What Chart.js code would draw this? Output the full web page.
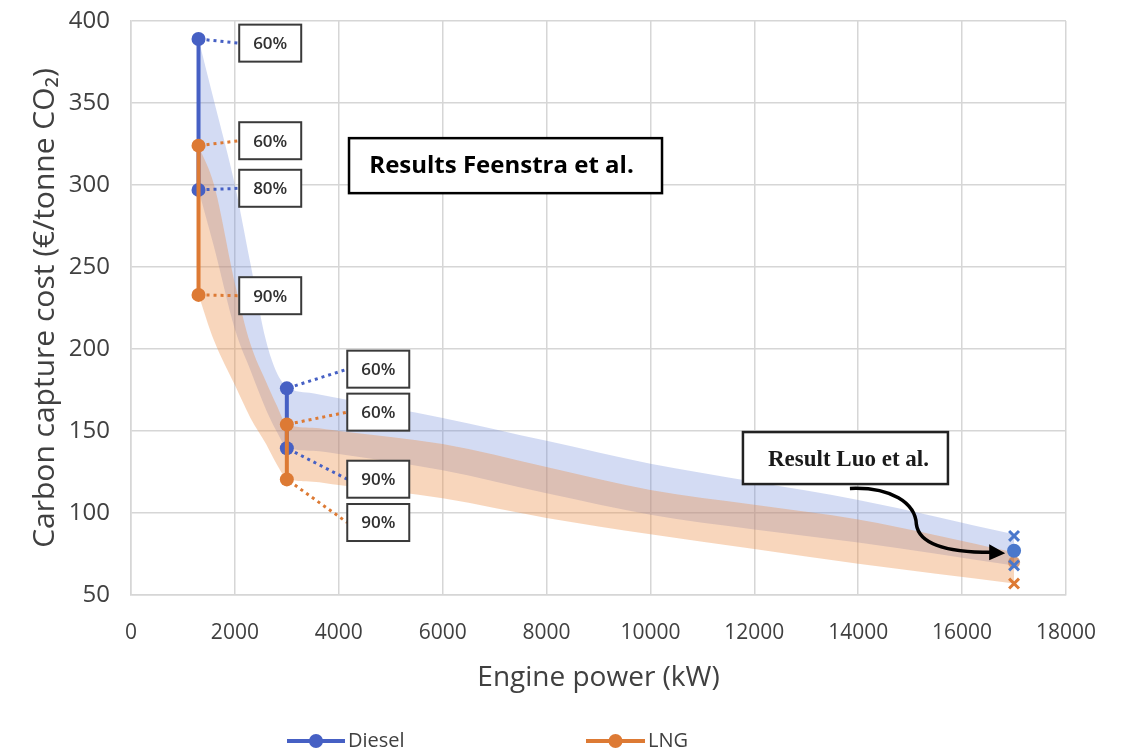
<!DOCTYPE html>
<html>
<head>
<meta charset="utf-8">
<script src="https://cdn.jsdelivr.net/npm/chart.js@4.4.1/dist/chart.umd.min.js"></script>
<style>
  html, body { margin: 0; padding: 0; background: #ffffff; }
  #wrap { width: 1123px; height: 756px; }
</style>
</head>
<body>
<div id="wrap"><canvas id="c" width="1123" height="756"></canvas></div>
<script>
// ---------------- DATA ----------------
const seriesNames = ['Diesel', 'LNG'];
const powerKW = [1300, 3000];              // engine power of Feenstra cases
const dieselHigh = [389, 176];             // 60 % capture
const dieselLow = [297, 139.5];            // 80 % / 90 % capture
const lngHigh = [324, 154];                // 60 % capture
const lngLow = [233, 120.5];               // 90 % capture
const dieselHighLabels = ['60%', '60%'];
const dieselLowLabels = ['80%', '90%'];
const lngHighLabels = ['60%', '60%'];
const lngLowLabels = ['90%', '90%'];

const luoPower = [17000];
const luoDieselMid = [77];
const luoDieselRange = [86, 68];
const luoLngMid = [70];
const luoLngRange = [57];

// uncertainty bands (read along band edges)
const bandPower = [1300, 1600, 2000, 2300, 2600, 2800, 3000, 3500, 4000, 6000, 8000, 10000, 12000, 14000, 17000];
const dieselBandTop = [389, 351, 300, 252, 205, 186, 177, 173, 170, 158, 144, 130, 119, 108, 87];
const dieselBandBottom = [297, 262, 212, 187, 163, 150, 140, 138, 136, 126, 112, 99, 90, 82, 68];
const lngBandTop = [324, 300, 240, 203, 180, 166, 154, 152, 150, 142, 128, 114, 105, 96, 76];
const lngBandBottom = [233, 205, 178, 158, 142, 130, 121, 119, 117, 109, 97, 87, 78, 69, 57];

const xTickMin = 0, xTickMax = 18000, xTickStep = 2000;
const yTickMin = 50, yTickMax = 400, yTickStep = 50;

const feenstraText = 'Results Feenstra et al.';
const luoText = 'Result Luo et al.';

// ---------------- STYLE ----------------
const BLUE = '#4660c4';
const ORANGE = '#dd7a34';
const BLUE_BAND = 'rgba(110,135,215,0.30)';
const ORANGE_BAND = 'rgba(235,140,70,0.36)';
const TEXT = '#404040';
const GRID = '#d6d6d6';

// annotation anchors (data units)
const leftBoxX = 2680, rightBoxX = 4760;
const boxW = 62, boxH = 37;
const leaderBoxes = [
  { text: dieselHighLabels[0], bx: leftBoxX, by: 386.5, px: powerKW[0], py: dieselHigh[0], color: BLUE },
  { text: lngHighLabels[0],    bx: leftBoxX, by: 327,   px: powerKW[0], py: lngHigh[0],    color: ORANGE },
  { text: dieselLowLabels[0],  bx: leftBoxX, by: 298,   px: powerKW[0], py: dieselLow[0],  color: BLUE },
  { text: lngLowLabels[0],     bx: leftBoxX, by: 232.5, px: powerKW[0], py: lngLow[0],     color: ORANGE },
  { text: dieselHighLabels[1], bx: rightBoxX, by: 187.7, px: powerKW[1], py: dieselHigh[1], color: BLUE },
  { text: lngHighLabels[1],    bx: rightBoxX, by: 161.5, px: powerKW[1], py: lngHigh[1],    color: ORANGE },
  { text: dieselLowLabels[1],  bx: rightBoxX, by: 120.6, px: powerKW[1], py: dieselLow[1],  color: BLUE },
  { text: lngLowLabels[1],     bx: rightBoxX, by: 94.2,  px: powerKW[1], py: lngLow[1],     color: ORANGE }
];

// ---------------- BUILD ----------------
function verticalPairs(xs, hi, lo) {
  const out = [];
  xs.forEach((x, i) => {
    if (i > 0) out.push({ x: x, y: null });
    out.push({ x: x, y: hi[i] });
    out.push({ x: x, y: lo[i] });
  });
  return out;
}
function pts(xs, ys) { return ys.map((y, i) => ({ x: xs[i], y: y })); }
function rep(x, ys) { return ys.map(y => ({ x: x, y: y })); }

const datasets = [
  { label: seriesNames[1], data: verticalPairs(powerKW, lngHigh, lngLow), borderColor: ORANGE, backgroundColor: ORANGE,
    borderWidth: 4, pointRadius: 7, pointBackgroundColor: ORANGE, pointBorderWidth: 0, spanGaps: false, fill: false },
  { label: seriesNames[0], data: verticalPairs(powerKW, dieselHigh, dieselLow), borderColor: BLUE, backgroundColor: BLUE,
    borderWidth: 4, pointRadius: 7, pointBackgroundColor: BLUE, pointBorderWidth: 0, spanGaps: false, fill: false },
  { label: 'Luo Diesel range', data: rep(luoPower[0], luoDieselRange), showLine: false, pointStyle: 'crossRot',
    pointRadius: 7, pointBorderWidth: 3, borderColor: '#4a78cc', backgroundColor: '#4a78cc' },
  { label: 'Luo Diesel', data: rep(luoPower[0], luoDieselMid), showLine: false, pointRadius: 7,
    pointBorderWidth: 0, backgroundColor: '#4a78cc', borderColor: '#4a78cc' },
  { label: 'Luo LNG', data: rep(luoPower[0], luoLngMid), showLine: false, pointRadius: 6,
    pointBorderWidth: 0, backgroundColor: 'rgba(200,120,70,0.7)', borderColor: ORANGE },
  { label: 'Luo LNG range', data: rep(luoPower[0], luoLngRange), showLine: false, pointStyle: 'crossRot',
    pointRadius: 7, pointBorderWidth: 3, borderColor: ORANGE, backgroundColor: ORANGE },
  { label: 'LNG band top', data: pts(bandPower, lngBandTop), borderWidth: 0, pointRadius: 0,
    backgroundColor: ORANGE_BAND, borderColor: 'rgba(0,0,0,0)', fill: '+1', cubicInterpolationMode: 'monotone' },
  { label: 'LNG band bottom', data: pts(bandPower, lngBandBottom), borderWidth: 0, pointRadius: 0,
    borderColor: 'rgba(0,0,0,0)', fill: false, cubicInterpolationMode: 'monotone' },
  { label: 'Diesel band top', data: pts(bandPower, dieselBandTop), borderWidth: 0, pointRadius: 0,
    backgroundColor: BLUE_BAND, borderColor: 'rgba(0,0,0,0)', fill: '+1', cubicInterpolationMode: 'monotone' },
  { label: 'Diesel band bottom', data: pts(bandPower, dieselBandBottom), borderWidth: 0, pointRadius: 0,
    borderColor: 'rgba(0,0,0,0)', fill: false, cubicInterpolationMode: 'monotone' }
];

const annotationPlugin = {
  id: 'annot',
  afterDatasetsDraw(chart) {
    const ctx = chart.ctx;
    const xs = chart.scales.x, ys = chart.scales.y;
    ctx.save();
    // leader lines + boxes
    leaderBoxes.forEach(b => {
      const x0 = xs.getPixelForValue(b.px), y0 = ys.getPixelForValue(b.py);
      const cx = xs.getPixelForValue(b.bx), cy = ys.getPixelForValue(b.by);
      const left = cx - boxW / 2;
      ctx.strokeStyle = b.color;
      ctx.lineWidth = 3;
      ctx.setLineDash([3, 4]);
      ctx.beginPath();
      ctx.moveTo(x0 + 8, y0 + (cy - y0) * 8 / Math.max(1, left - x0));
      ctx.lineTo(left, cy);
      ctx.stroke();
      ctx.setLineDash([]);
      ctx.fillStyle = '#ffffff';
      ctx.fillRect(left, cy - boxH / 2, boxW, boxH);
      ctx.strokeStyle = '#3a3a3a';
      ctx.lineWidth = 2;
      ctx.strokeRect(left, cy - boxH / 2, boxW, boxH);
      ctx.fillStyle = '#303030';
      ctx.font = '600 17px "Open Sans"';
      ctx.textAlign = 'center';
      ctx.textBaseline = 'middle';
      ctx.fillText(b.text, cx, cy + 1);
    });
    // Feenstra box
    {
      const cx = xs.getPixelForValue(7210), cy = ys.getPixelForValue(311.8);
      const w = 313, h = 55;
      ctx.fillStyle = '#ffffff';
      ctx.fillRect(cx - w / 2, cy - h / 2, w, h);
      ctx.strokeStyle = '#000000';
      ctx.lineWidth = 2.5;
      ctx.strokeRect(cx - w / 2, cy - h / 2, w, h);
      ctx.fillStyle = '#000000';
      ctx.font = 'bold 24px "Open Sans"';
      ctx.textAlign = 'center';
      ctx.textBaseline = 'middle';
      ctx.fillText(feenstraText, cx - 4, cy + 1);
    }
    // Luo box
    {
      const cx = xs.getPixelForValue(13754), cy = ys.getPixelForValue(133.5);
      const w = 205, h = 52;
      ctx.fillStyle = '#ffffff';
      ctx.fillRect(cx - w / 2, cy - h / 2, w, h);
      ctx.strokeStyle = '#222222';
      ctx.lineWidth = 2.5;
      ctx.strokeRect(cx - w / 2, cy - h / 2, w, h);
      ctx.fillStyle = '#1a1a1a';
      ctx.font = 'bold 23px "Liberation Serif"';
      ctx.textAlign = 'center';
      ctx.textBaseline = 'middle';
      ctx.fillText(luoText, cx + 3, cy + 2);
    }
    // curved arrow
    {
      const P = (x, y) => [xs.getPixelForValue(x), ys.getPixelForValue(y)];
      const s = P(13840, 115), c1 = P(14640, 116), c2 = P(15100, 106), m = P(15120, 93);
      const c3 = P(15180, 79), c4 = P(15900, 76), e = P(16560, 76);
      const tip = P(16830, 75.4);
      ctx.strokeStyle = '#000000';
      ctx.lineWidth = 3.5;
      ctx.beginPath();
      ctx.moveTo(s[0], s[1]);
      ctx.bezierCurveTo(c1[0], c1[1], c2[0], c2[1], m[0], m[1]);
      ctx.bezierCurveTo(c3[0], c3[1], c4[0], c4[1], e[0], e[1]);
      ctx.stroke();
      ctx.fillStyle = '#000000';
      ctx.beginPath();
      ctx.moveTo(tip[0], tip[1]);
      ctx.lineTo(e[0] - 2, e[1] - 8);
      ctx.lineTo(e[0] - 2, e[1] + 8);
      ctx.closePath();
      ctx.fill();
    }
    ctx.restore();
  },
  afterDraw(chart) {
    const ctx = chart.ctx;
    ctx.save();
    const items = [
      { name: seriesNames[0], color: BLUE, x0: 287, x1: 345 },
      { name: seriesNames[1], color: ORANGE, x0: 586, x1: 645 }
    ];
    const y = 741;
    items.forEach(it => {
      ctx.strokeStyle = it.color;
      ctx.lineWidth = 4;
      ctx.beginPath();
      ctx.moveTo(it.x0, y);
      ctx.lineTo(it.x1, y);
      ctx.stroke();
      ctx.fillStyle = it.color;
      ctx.beginPath();
      ctx.arc((it.x0 + it.x1) / 2, y, 7, 0, Math.PI * 2);
      ctx.fill();
      ctx.fillStyle = TEXT;
      ctx.font = '20px "Open Sans"';
      ctx.textAlign = 'left';
      ctx.textBaseline = 'middle';
      ctx.fillText(it.name, it.x1 + 3, y);
    });
    ctx.restore();
  }
};

new Chart(document.getElementById('c'), {
  type: 'line',
  data: { datasets: datasets },
  options: {
    responsive: false,
    animation: false,
    devicePixelRatio: 1,
    layout: { padding: { top: 21, right: 57, bottom: 59, left: 0 } },
    plugins: { legend: { display: false }, tooltip: { enabled: false } },
    scales: {
      x: {
        type: 'linear', min: xTickMin, max: xTickMax,
        ticks: { stepSize: xTickStep, color: TEXT, font: { family: 'Open Sans', size: 21 }, padding: 25,
                 callback: v => String(v) },
        grid: { color: GRID, lineWidth: 1.5, drawTicks: false },
        border: { color: GRID, width: 1.5 },
        title: { display: true, text: 'Engine power (kW)', color: TEXT, font: { family: 'Open Sans', size: 28 },
                 padding: { top: 2, bottom: 2 } },
        afterFit(scale) { scale.height = 102; }
      },
      y: {
        type: 'linear', min: yTickMin, max: yTickMax,
        ticks: { stepSize: yTickStep, color: TEXT, font: { family: 'Open Sans', size: 24 }, padding: 21 },
        grid: { color: GRID, lineWidth: 1.5, drawTicks: false },
        border: { color: GRID, width: 1.5 },
        title: { display: true, text: 'Carbon capture cost (€/tonne CO₂)', color: TEXT,
                 font: { family: 'Open Sans', size: 30 }, padding: { top: 27, bottom: 0 } },
        afterFit(scale) { scale.width = 131; scale.paddingTop = 0; scale.paddingBottom = 0; }
      }
    }
  },
  plugins: [annotationPlugin]
});
</script>
</body>
</html>
